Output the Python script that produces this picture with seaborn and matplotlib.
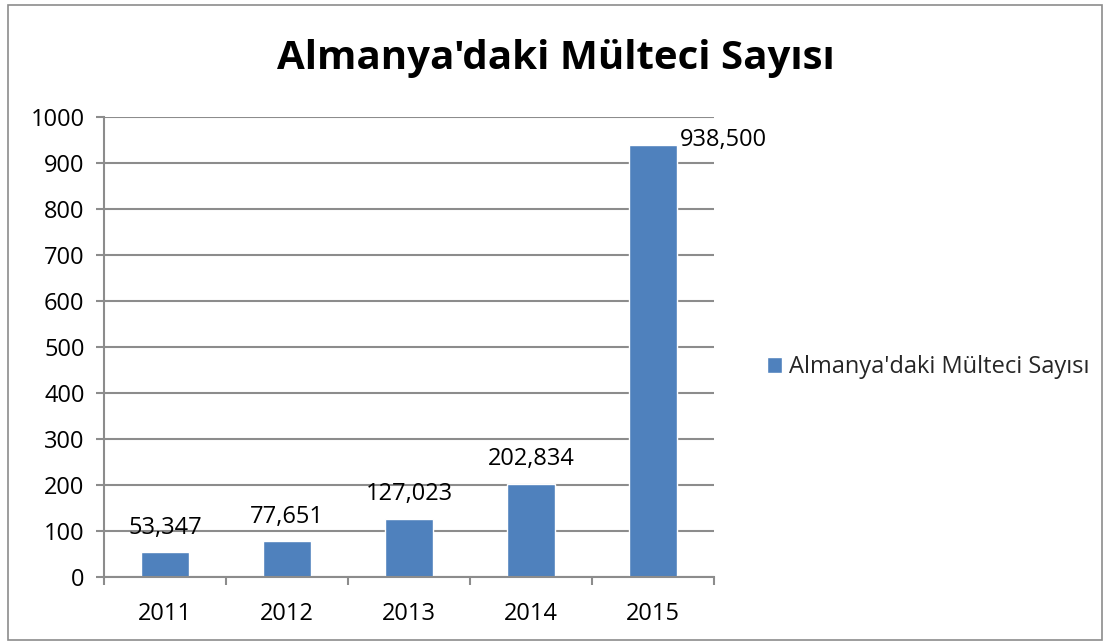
import matplotlib
matplotlib.use("Agg")
import matplotlib.pyplot as plt
import seaborn as sns
import pandas as pd
from matplotlib.patches import Rectangle
from matplotlib.ticker import MultipleLocator, FixedLocator

years = ["2011", "2012", "2013", "2014", "2015"]
values = [53.347, 77.651, 127.023, 202.834, 938.5]
value_labels = ["53,347", "77,651", "127,023", "202,834", "938,500"]
series_name = "Almanya'daki Mülteci Sayısı"
title = "Almanya'daki Mülteci Sayısı"

sns.set_theme(style="white")
plt.rcParams['font.family'] = ['Open Sans', 'DejaVu Sans']

BLUE = "#4F81BD"
GRID = "#8C8C8C"
FS = 17

fig = plt.figure(figsize=(11.05, 6.43), dpi=100)
ax = fig.add_axes([104/1105, 1 - 577/643, (714-104)/1105, (577-117)/643])

df = pd.DataFrame({"Yıl": years, "Sayı": values, "Seri": series_name})
sns.barplot(data=df, x="Yıl", y="Sayı", hue="Seri", palette=[BLUE], width=0.4,
            ax=ax, saturation=1, legend=True)

ax.set_xlim(-0.5, 4.5)
ax.set_ylim(0, 1000)
ax.yaxis.set_major_locator(MultipleLocator(100))
ax.grid(axis="y", color=GRID, linewidth=1.5)
ax.set_axisbelow(True)
ax.set_xlabel("")
ax.set_ylabel("")

for s in ["top", "right"]:
    ax.spines[s].set_visible(False)
for s in ["left", "bottom"]:
    ax.spines[s].set_visible(True)
    ax.spines[s].set_color(GRID)
    ax.spines[s].set_linewidth(1.5)

ax.tick_params(axis="y", which="major", length=6, width=1.5, color=GRID, pad=8,
               labelsize=FS, labelcolor="black", left=True)
ax.tick_params(axis="x", which="major", length=0, pad=18, labelsize=FS, labelcolor="black")
ax.xaxis.set_minor_locator(FixedLocator([-0.5, 0.5, 1.5, 2.5, 3.5, 4.5]))
ax.tick_params(axis="x", which="minor", length=6, width=1.5, color=GRID, bottom=True)

for i, (v, lab) in enumerate(zip(values, value_labels)):
    if i == len(values) - 1:
        ax.annotate(lab, xy=(i + 0.2, v), xytext=(2, -5), textcoords="offset points",
                    ha="left", va="bottom", fontsize=FS, color="black")
    else:
        ax.annotate(lab, xy=(i, v), xytext=(0, 9), textcoords="offset points",
                    ha="center", va="bottom", fontsize=FS, color="black")

leg = ax.legend(loc="center left", bbox_to_anchor=(755/1105, 1 - 367/643),
                bbox_transform=fig.transFigure, frameon=False, fontsize=FS,
                handlelength=0.65, handleheight=0.65, handletextpad=0.3, borderpad=0)

fig.text(0.503, 1 - 58/643, title, ha="center", va="center", fontsize=29,
         fontweight="bold", color="black")

fig.patches.append(Rectangle((8/1105, 3/643), (1102-8)/1105, (638-3)/643,
                             transform=fig.transFigure, fill=False,
                             edgecolor="#8C8C8C", linewidth=1.2))

fig.savefig("out.png", dpi=100)
